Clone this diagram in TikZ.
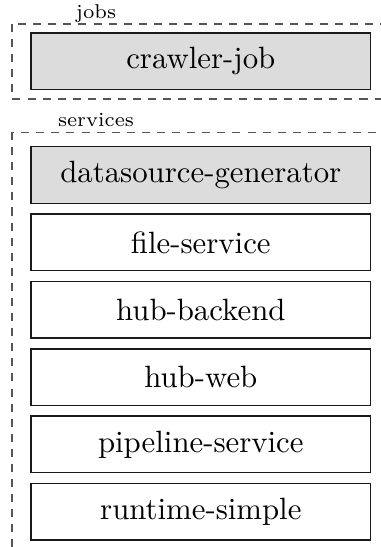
\documentclass[tikz,border=0pt]{standalone}
\usepackage{tikz}
\usetikzlibrary{positioning}
\definecolor{ink}{HTML}{1A1A1A}
\definecolor{inkl}{HTML}{555555}
\definecolor{boxfill}{HTML}{DCDCDC}
\tikzset{el/.style={line cap=butt, line join=miter},
  unit/.style={draw=ink, line width=0.45pt, minimum width=3.88cm, minimum height=0.645cm, inner sep=0pt, font=\normalsize},
  gen/.style={unit, fill=boxfill},
  grp/.style={draw=inkl, line width=0.35pt, dash pattern=on 2.6pt off 2.3pt},
  grplabel/.style={inner sep=0pt, font=\fontsize{6.5}{7.5}\selectfont}}

\begin{document}
\begin{tikzpicture}[el, node distance=0.108cm]
  \useasboundingbox (0,0) rectangle (4.348,-6.243);
  \clip (0,0) rectangle (4.348,-6.243);
  % jobs
  \draw[grp] (0.137,-0.274) rectangle (4.7,-1.130);
  \node[grplabel] (jobslbl) at (1.096,-0.150) {jobs};
  \node[gen] (crawler) at (2.292,-0.700) {crawler-job};
  % services
  \draw[grp] (0.137,-1.507) rectangle (4.7,-6.6);
  \node[grplabel] (srvlbl) at (1.096,-1.372) {services};
  \node[gen] (dsgen) at (2.292,-1.997) {datasource-generator};
  \node[unit, below=of dsgen] (filesrv) {file-service};
  \node[unit, below=of filesrv] (hubback) {hub-backend};
  \node[unit, below=of hubback] (hubweb) {hub-web};
  \node[unit, below=of hubweb] (pipesrv) {pipeline-service};
  \node[unit, below=of pipesrv] (runsimple) {runtime-simple};
\end{tikzpicture}
\end{document}
